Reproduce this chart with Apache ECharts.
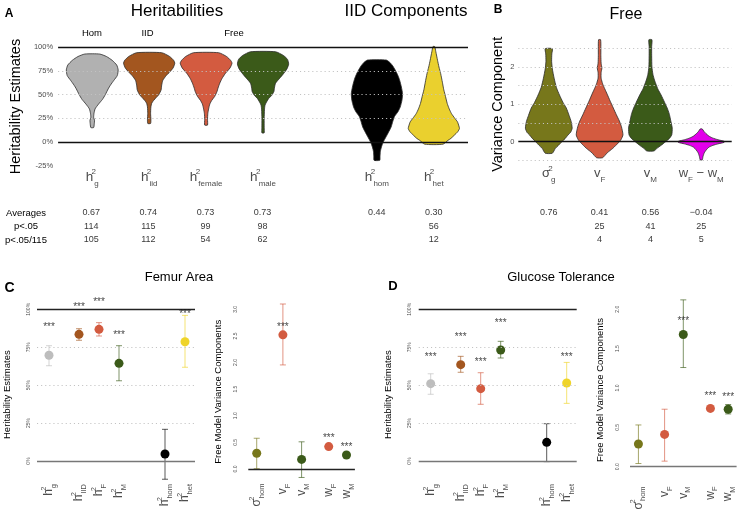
<!DOCTYPE html>
<html>
<head>
<meta charset="utf-8">
<script src="https://cdn.jsdelivr.net/npm/echarts@6.0.0/dist/echarts.min.js"></script>
<style>
  html, body { margin: 0; padding: 0; background: #fff; }
  #main { width: 739px; height: 517px; }
</style>
</head>
<body>
<div id="main"></div>
<script type="text/javascript">
var FONT = 'Liberation Sans, Arial, sans-serif';
var GREY = '#4d4d4d';

// ---- panel A : heritability violins (value %, half width in category units)
var aPos = [0, 1, 2, 3, 5, 6];
var aLabels = ['{h|h}{p|2}{s|g}', '{h|h}{p|2}{s|iid}', '{h|h}{p|2}{s|female}',
               '{h|h}{p|2}{s|male}', '{h|h}{p|2}{s|hom}', '{h|h}{p|2}{s|het}'];
var aColors = ['#b1b1b1', '#a3561f', '#d35b40', '#3b5a19', '#000000', '#ead02e'];
var violinG = [[92.6,0.13],[90,0.25],[86,0.35],[81,0.43],[76,0.455],[70,0.44],[65,0.38],[60,0.32],[56,0.28],
               [50,0.23],[45,0.18],[40,0.11],[35,0.05],[30,0.03],[26,0.025],[23,0.04],[19,0.035],[15.4,0.025]];
var violinIid = [[94,0.22],[90,0.36],[86,0.43],[83,0.45],[78,0.42],[74,0.365],[70,0.3],[65,0.24],[60,0.22],
                 [55,0.21],[50,0.17],[47,0.125],[44,0.08],[41,0.045],[37,0.03],[30,0.025],[24,0.03],[19.7,0.025]];
var violinFemale = [[94,0.22],[90,0.36],[86,0.43],[83,0.455],[78,0.42],[72,0.335],[67,0.28],[62,0.24],[57,0.21],
                    [53,0.19],[48,0.15],[44,0.1],[40,0.065],[35,0.044],[30,0.03],[24,0.025],[18,0.025]];
var violinMale = [[95,0.22],[91,0.36],[87,0.43],[82,0.45],[77,0.42],[72,0.36],[67,0.29],[62,0.22],[57,0.2],
                  [53,0.19],[49,0.15],[46,0.1],[42,0.06],[39,0.035],[34,0.025],[25,0.02],[15,0.02],[9.8,0.02]];
var violinHom = [[86.3,0.166],[83,0.24],[80,0.28],[76,0.32],[70,0.37],[65,0.4],[58,0.43],[51,0.45],[44,0.44],
                 [37,0.41],[32,0.37],[27,0.31],[22,0.28],[16,0.25],[10,0.2],[5.6,0.16],[0,0.11],[-5,0.08],
                 [-10,0.06],[-15,0.055],[-19,0.05]];
var violinHet = [[100.5,0.015],[95,0.035],[86,0.065],[79,0.09],[72,0.12],[63,0.15],[55,0.175],[48,0.205],
                 [40.7,0.235],[35,0.27],[30,0.31],[25,0.37],[21.4,0.415],[17,0.44],[14.4,0.45],[11,0.42],
                 [7.4,0.36],[4,0.3],[2,0.25],[-2.1,0.16]];
var aViolins = [violinG, violinIid, violinFemale, violinMale, violinHom, violinHet];

// ---- panel B : free model variance components
var bPos = [0, 1, 2, 3];
var bLabels = ['{h|\u03c3}{p|2}{s|g}', '{h|v}{s|F}', '{h|v}{s|M}', '{h|w}{s|F}{h| \u2212 w}{s|M}'];
var bColors = ['#77771b', '#d35b40', '#3b5a19', '#e300ea'];
var violinSg = [[2.49,0.07],[2.35,0.06],[2.15,0.056],[1.95,0.07],[1.7,0.105],[1.45,0.15],[1.25,0.21],[1.05,0.28],
                [0.9,0.345],[0.7,0.4],[0.54,0.44],[0.36,0.46],[0.25,0.43],[0.18,0.38],[0.08,0.32],[0,0.26],
                [-0.1,0.19],[-0.18,0.13],[-0.31,0.07]];
var violinVF = [[2.73,0.02],[2.5,0.025],[2.3,0.025],[2.1,0.03],[1.97,0.045],[1.85,0.03],[1.7,0.03],[1.55,0.06],
                [1.45,0.09],[1.3,0.14],[1.08,0.21],[0.9,0.27],[0.72,0.33],[0.55,0.39],[0.4,0.43],[0.18,0.46],
                [0.05,0.42],[0,0.39],[-0.1,0.32],[-0.18,0.26],[-0.3,0.15],[-0.43,0.06]];
var violinVM = [[2.73,0.03],[2.55,0.025],[2.3,0.025],[2.0,0.03],[1.8,0.05],[1.65,0.08],[1.52,0.115],[1.4,0.15],
                [1.25,0.21],[1.05,0.28],[0.9,0.33],[0.75,0.37],[0.63,0.39],[0.5,0.41],[0.36,0.43],[0.18,0.42],
                [0.08,0.37],[0,0.3],[-0.1,0.21],[-0.18,0.13],[-0.25,0.07]];
var violinWdiff = [[0.34,0.02],[0.28,0.05],[0.22,0.09],[0.15,0.15],[0.1,0.22],[0.05,0.33],[0.01,0.45],[-0.02,0.45],
                   [-0.06,0.33],[-0.1,0.23],[-0.15,0.15],[-0.22,0.1],[-0.3,0.06],[-0.4,0.035],[-0.49,0.02]];
var bViolins = [violinSg, violinVF, violinVM, violinWdiff];

// ---- summary table under A and B
var tableRows = ['Averages', 'p<.05', 'p<.05/115'];
var aAverages = ['0.67', '0.74', '0.73', '0.73', '0.44', '0.30'];
var aSig05 = ['114', '115', '99', '98', '', '56'];
var aSigBonf = ['105', '112', '54', '62', '', '12'];
var bAverages = ['0.76', '0.41', '0.56', '\u22120.04'];
var bSig05 = ['', '25', '41', '25'];
var bSigBonf = ['', '4', '4', '5'];

// ---- panels C and D : point estimates with intervals
var hPos = [1, 2.5, 3.5, 4.5, 6.8, 7.8];
var hLabels = ['{h|h}{p|2}{s|g}', '{h|h}{p|2}{s|IID}', '{h|h}{p|2}{s|F}', '{h|h}{p|2}{s|M}',
               '{h|h}{p|2}{s|hom}', '{h|h}{p|2}{s|het}'];
var hColors = ['#bdbdbd', '#a3561f', '#d35b40', '#3b5a19', '#000000', '#efd429'];
var vPos = [1, 2.4, 3.4, 4.85, 5.8];
var vLabels = ['{h|\u03c3}{p|2}{s|hom}', '{h|v}{s|F}', '{h|v}{s|M}', '{h|w}{s|F}', '{h|w}{s|M}'];
var vColors = ['#77771b', '#d35b40', '#3b5a19', '#d35b40', '#3b5a19'];

var femurHerit = [69.7, 83.5, 86.8, 64.4, 4.6, 78.6];
var femurHeritLo = [62.8, 79.6, 82.4, 52.9, -12, 61.8];
var femurHeritHi = [76, 87.2, 91.2, 76, 20.9, 96];
var femurHeritStar = [90, 103, 106.6, 84.6, null, 98.9];
var femurVar = [0.295, 2.52, 0.18, 0.42, 0.263];
var femurVarLo = [0.005, 1.955, -0.16, 0.41, 0.25];
var femurVarHi = [0.577, 3.1, 0.51, 0.43, 0.275];
var femurVarStar = [null, 2.72, null, 0.63, 0.46];

var glucHerit = [51, 63.5, 47.7, 73.2, 12.3, 51.4];
var glucHeritLo = [44, 58.5, 37.4, 67.9, -0.4, 38];
var glucHeritHi = [57.5, 69, 58.2, 78.9, 24.6, 65];
var glucHeritStar = [70.5, 83.5, 67.2, 92.5, null, 70.5];
var glucVar = [0.288, 0.41, 1.68, 0.74, 0.73];
var glucVarLo = [0.04, 0.07, 1.26, 0.73, 0.67];
var glucVarHi = [0.53, 0.73, 2.12, 0.75, 0.79];
var glucVarStar = [null, null, 1.88, 0.93, 0.92];

// ---------------------------------------------------------------
function richLabels(big, sub) {
  return {
    h: { fontFamily: FONT, fontSize: big, color: GREY, lineHeight: big + 6 },
    p: { fontFamily: FONT, fontSize: sub, color: GREY, lineHeight: sub + 2, verticalAlign: 'top', width: 1, align: 'left' },
    s: { fontFamily: FONT, fontSize: sub, color: GREY, lineHeight: sub + 2, verticalAlign: 'bottom' }
  };
}
function labelAt(pos, labels) {
  return function (v) {
    for (var i = 0; i < pos.length; i++) if (Math.abs(pos[i] - v) < 1e-4) return labels[i];
    return '';
  };
}
// show only non-negative multiples of `step`
function stepLabels(step, suffix, digits) {
  return function (v) {
    var k = v / step;
    if (v < -1e-9 || Math.abs(k - Math.round(k)) > 1e-6) return '';
    return (digits ? v.toFixed(digits) : String(Math.round(v))) + suffix;
  };
}
function plainX(gi, min, max, step, pos, labels, rich, margin, rotate) {
  return {
    gridIndex: gi, type: 'value', min: min, max: max, interval: step,
    axisLine: { show: false }, axisTick: { show: false }, splitLine: { show: false },
    axisLabel: { formatter: labelAt(pos, labels), rich: rich, margin: margin, rotate: rotate || 0 }
  };
}
function hiddenX(gi, min, max) {
  return { gridIndex: gi, type: 'value', min: min, max: max, show: false, splitLine: { show: false } };
}
function violinSeries(gi, pos, shapes, colors) {
  return {
    type: 'custom', xAxisIndex: gi, yAxisIndex: gi, z: 2, silent: true,
    data: pos.map(function (p, i) { return [p, shapes[i][0][0]]; }),
    renderItem: function (params, api) {
      var shape = shapes[params.dataIndex];
      var x = api.value(0);
      var pts = [];
      shape.forEach(function (d) { pts.push(api.coord([x + d[1], d[0]])); });
      for (var i = shape.length - 1; i >= 0; i--) pts.push(api.coord([x - shape[i][1], shape[i][0]]));
      return {
        type: 'polygon', shape: { points: pts, smooth: 0.2 },
        style: { fill: colors[params.dataIndex], stroke: '#2b2b2b', lineWidth: 0.8 }
      };
    }
  };
}
function hLines(gi, solid, dotted) {
  var d = solid.map(function (s) {
    return { yAxis: s[0], lineStyle: { color: s[1], width: 1.4, type: 'solid' } };
  }).concat(dotted.map(function (v) {
    return { yAxis: v, lineStyle: { color: '#c2c2c2', width: 1.1, type: [1.1, 3] } };
  }));
  return {
    type: 'scatter', xAxisIndex: gi, yAxisIndex: gi, data: [], z: 5, silent: true,
    markLine: { symbol: 'none', silent: true, label: { show: false }, data: d }
  };
}
function errorSeries(gi, pos, lo, hi, colors) {
  return {
    type: 'custom', xAxisIndex: gi, yAxisIndex: gi, z: 3, silent: true,
    data: pos.map(function (p, i) { return [p, lo[i], hi[i]]; }),
    renderItem: function (params, api) {
      var a = api.coord([api.value(0), api.value(1)]);
      var b = api.coord([api.value(0), api.value(2)]);
      var cap = 3;
      var st = { stroke: colors[params.dataIndex], lineWidth: 1, opacity: 0.65 };
      return {
        type: 'group', children: [
          { type: 'line', shape: { x1: a[0], y1: a[1], x2: b[0], y2: b[1] }, style: st },
          { type: 'line', shape: { x1: a[0] - cap, y1: a[1], x2: a[0] + cap, y2: a[1] }, style: st },
          { type: 'line', shape: { x1: b[0] - cap, y1: b[1], x2: b[0] + cap, y2: b[1] }, style: st }
        ]
      };
    }
  };
}
function pointSeries(gi, pos, vals, colors) {
  return {
    type: 'scatter', xAxisIndex: gi, yAxisIndex: gi, z: 4, symbolSize: 9, clip: false, silent: true,
    data: pos.map(function (p, i) { return [p, vals[i]]; }),
    itemStyle: { opacity: 1, color: function (p) { return colors[p.dataIndex]; } }
  };
}
function starSeries(gi, pos, stars) {
  var d = [];
  stars.forEach(function (s, i) { if (s != null) d.push([pos[i], s]); });
  return {
    type: 'scatter', xAxisIndex: gi, yAxisIndex: gi, z: 6, symbolSize: 1, clip: false, silent: true,
    itemStyle: { color: 'transparent' }, data: d,
    label: { show: true, position: 'inside', formatter: '***', fontSize: 10, color: '#111',
             fontFamily: FONT, offset: [0, 3] }
  };
}
function tableSeries(gi, pos, rows) {
  var d = [], txt = [];
  rows.forEach(function (row, r) {
    row.forEach(function (t, i) { if (t) { d.push([pos[i], r]); txt.push(t); } });
  });
  return {
    type: 'scatter', xAxisIndex: gi, yAxisIndex: gi, symbolSize: 1, silent: true,
    itemStyle: { color: 'transparent' }, data: d,
    label: { show: true, position: 'inside', fontSize: 9, color: '#000', fontFamily: FONT,
             formatter: function (p) { return txt[p.dataIndex]; } }
  };
}
function sideY(gi, min, max, step, fmt, name, nameGap, nameSize, labelSize, margin, rotate) {
  return {
    gridIndex: gi, type: 'value', min: min, max: max, interval: step, z: 10,
    axisLine: { show: false }, axisTick: { show: false }, splitLine: { show: false },
    axisLabel: { formatter: fmt, fontSize: labelSize, color: GREY, fontFamily: FONT, margin: margin, rotate: rotate || 0 },
    name: name, nameLocation: 'middle', nameGap: nameGap,
    nameTextStyle: { fontSize: nameSize, color: '#000', fontFamily: FONT }
  };
}
function txt(t, x, y, size, bold) {
  return {
    type: 'text', x: x, y: y, silent: true,
    style: { text: t, fontSize: size, fontFamily: FONT, fontWeight: bold ? 'bold' : 'normal',
             fill: '#000', align: 'center', verticalAlign: 'middle' }
  };
}

var chart = echarts.init(document.getElementById('main'));
chart.setOption({
  animation: false,
  backgroundColor: '#fff',
  graphic: [
    txt('A', 9, 14, 12, true), txt('Heritabilities', 177, 11.5, 17), txt('IID Components', 406, 11.5, 17),
    txt('Hom', 92, 33.3, 9.5), txt('IID', 147.5, 33.3, 9.5), txt('Free', 234, 33.3, 9.5),
    txt('B', 498, 9.5, 12, true), txt('Free', 626, 15, 16),
    txt('C', 9.5, 288.3, 14, true), txt('Femur Area', 179, 277.2, 13),
    txt('D', 393, 286.2, 13, true), txt('Glucose Tolerance', 561, 277.2, 13)
  ],
  grid: [
    { left: 57, top: 47, width: 411, height: 119 },
    { left: 518.3, top: 48.3, width: 213.4, height: 112 },
    { left: 57, top: 206.25, width: 411, height: 40.5 },
    { left: 518.3, top: 206.25, width: 213.4, height: 40.5 },
    { left: 37, top: 309.3, width: 158, height: 170.7 },
    { left: 248.3, top: 304, width: 106.6, height: 175.6 },
    { left: 418.7, top: 309.3, width: 158, height: 170.7 },
    { left: 630, top: 297.5, width: 106.6, height: 184.9 }
  ],
  xAxis: [
    plainX(0, -0.6, 6.6, 0.2, aPos, aLabels, richLabels(13.5, 8), 2),
    plainX(1, -0.6, 3.6, 0.2, bPos, bLabels, richLabels(13, 8), 4),
    hiddenX(2, -0.6, 6.6),
    hiddenX(3, -0.6, 3.6),
    plainX(4, 0.4, 8.3, 0.1, hPos, hLabels, richLabels(12, 7.5), 4, 90),
    plainX(5, 0.55, 6.25, 0.05, vPos, vLabels, richLabels(12, 7.5), 4, 90),
    plainX(6, 0.4, 8.3, 0.1, hPos, hLabels, richLabels(12, 7.5), 4, 90),
    plainX(7, 0.55, 6.25, 0.05, vPos, vLabels, richLabels(12, 7.5), 4, 90)
  ],
  yAxis: [
    sideY(0, -25, 100, 25, '{value}%', 'Heritability Estimates', 27, 14.5, 7.5, 5),
    sideY(1, -0.5, 2.5, 0.5, function (v) { return Math.abs(v - Math.round(v)) < 1e-6 ? String(v) : ''; },
          'Variance Component', 13, 14.5, 7.5, 4),
    { gridIndex: 2, type: 'category', data: tableRows, inverse: true,
      axisLine: { show: false }, axisTick: { show: false }, splitLine: { show: false },
      axisLabel: { align: 'center', margin: 31, fontSize: 9.5, color: '#000', fontFamily: FONT } },
    { gridIndex: 3, type: 'category', data: tableRows, inverse: true, show: false },
    sideY(4, -12.5, 100, 12.5, stepLabels(25, '%', 0), 'Heritability Estimates', 25, 9.5, 5, 6, 90),
    sideY(5, -0.2, 3.1, 0.1, stepLabels(0.5, '', 1), 'Free Model Variance Components', 25, 9.5, 5, 10, 90),
    sideY(6, -12.5, 100, 12.5, stepLabels(25, '%', 0), 'Heritability Estimates', 25, 9.5, 5, 7, 90),
    sideY(7, -0.2, 2.15, 0.1, stepLabels(0.5, '', 1), 'Free Model Variance Components', 25, 9.5, 5, 10, 90)
  ],
  series: [
    violinSeries(0, aPos, aViolins, aColors),
    hLines(0, [[100, '#111'], [0, '#111']], [25, 50, 75]),
    violinSeries(1, bPos, bViolins, bColors),
    hLines(1, [[0, '#111']], [-0.5, 0.5, 1, 1.5, 2, 2.5]),
    tableSeries(2, aPos, [aAverages, aSig05, aSigBonf]),
    tableSeries(3, bPos, [bAverages, bSig05, bSigBonf]),

    hLines(4, [[100, '#222'], [0, '#777']], [25, 50, 75]),
    errorSeries(4, hPos, femurHeritLo, femurHeritHi, hColors),
    pointSeries(4, hPos, femurHerit, hColors),
    starSeries(4, hPos, femurHeritStar),
    hLines(5, [[0, '#222']], []),
    errorSeries(5, vPos, femurVarLo, femurVarHi, vColors),
    pointSeries(5, vPos, femurVar, vColors),
    starSeries(5, vPos, femurVarStar),

    hLines(6, [[100, '#222'], [0, '#777']], [25, 50, 75]),
    errorSeries(6, hPos, glucHeritLo, glucHeritHi, hColors),
    pointSeries(6, hPos, glucHerit, hColors),
    starSeries(6, hPos, glucHeritStar),
    hLines(7, [[0, '#777']], []),
    errorSeries(7, vPos, glucVarLo, glucVarHi, vColors),
    pointSeries(7, vPos, glucVar, vColors),
    starSeries(7, vPos, glucVarStar)
  ]
});
</script>
</body>
</html>
